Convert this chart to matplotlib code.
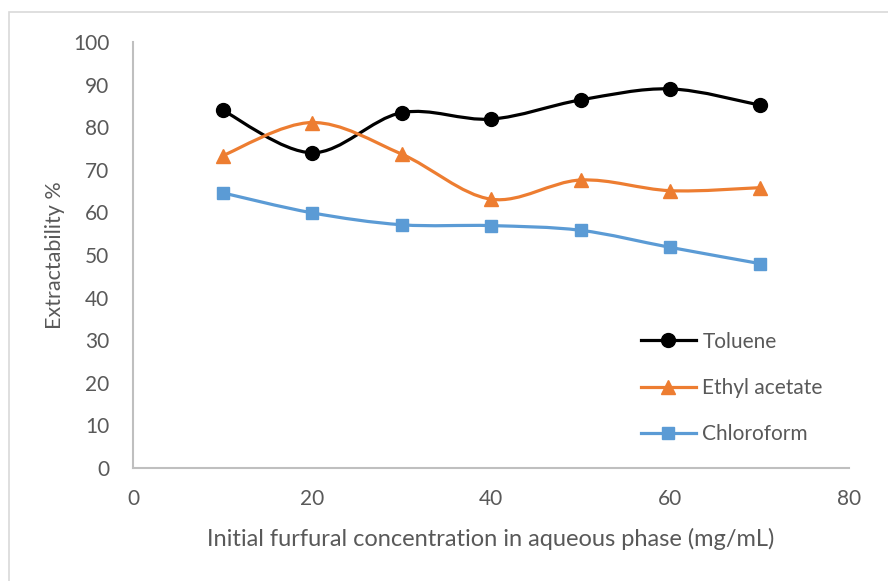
import numpy as np
import matplotlib
matplotlib.use('Agg')
import matplotlib.pyplot as plt
from matplotlib.path import Path
from matplotlib.patches import PathPatch, Rectangle
from matplotlib.lines import Line2D

plt.rcParams['font.family'] = ['Lato', 'DejaVu Sans']

# ── 数据 ──────────────────────────────────
conc = [10, 20, 30, 40, 50, 60, 70]
toluene = [84.0, 74.0, 83.4, 81.9, 86.4, 89.0, 85.2]
ethyl_acetate = [73.3, 81.1, 73.7, 63.1, 67.6, 65.1, 65.8]
chloroform = [64.6, 59.9, 57.1, 56.9, 55.8, 51.8, 48.0]

series_names = ['Toluene', 'Ethyl acetate', 'Chloroform']
GRAY_TXT = '#595959'
AXIS_GRAY = '#BFBFBF'


def smooth_path(x, y):
    # Excel 风格平滑：分段三次 Bezier
    pts = np.column_stack([x, y]).astype(float)
    n = len(pts)
    verts = [pts[0]]
    codes = [Path.MOVETO]
    for i in range(n - 1):
        p0 = pts[max(i - 1, 0)]
        p1 = pts[i]
        p2 = pts[i + 1]
        p3 = pts[min(i + 2, n - 1)]
        c1 = p1 + (p2 - p0) / 6.0
        c2 = p2 - (p3 - p1) / 6.0
        verts += [c1, c2, p2]
        codes += [Path.CURVE4] * 3
    return Path(verts, codes)


fig = plt.figure(figsize=(8.88, 5.81), dpi=100)
ax = fig.add_axes([133 / 888, 1 - 468 / 581, (849 - 133) / 888, (468 - 42) / 581])

# 外框
fig.patches.append(Rectangle((8.5 / 888, -0.1), 1.2, 1.1 - 12.5 / 581,
                             transform=fig.transFigure, fill=False,
                             edgecolor='#D9D9D9', linewidth=1.2))

styles = [
    (toluene, 'black', 'o', 10),
    (ethyl_acetate, '#ED7D31', '^', 10),
    (chloroform, '#5B9BD5', 's', 9),
]
handles = []
for (vals, color, mk, ms), name in zip(styles, series_names):
    ax.add_patch(PathPatch(smooth_path(conc, vals), facecolor='none',
                           edgecolor=color, linewidth=2.3, zorder=2))
    ax.plot(conc, vals, linestyle='none', marker=mk, markersize=ms,
            color=color, zorder=3)
    handles.append(Line2D([], [], color=color, linewidth=2.3, marker=mk,
                          markersize=ms, label=name))

ax.set_xlim(0, 80)
ax.set_ylim(0, 100)
ax.set_xticks(range(0, 81, 20))
ax.set_yticks(range(0, 101, 10))

for side in ['top', 'right']:
    ax.spines[side].set_visible(False)
for side in ['left', 'bottom']:
    ax.spines[side].set_color(AXIS_GRAY)
    ax.spines[side].set_linewidth(1.5)

ax.tick_params(axis='both', length=0, labelsize=15, labelcolor=GRAY_TXT)
ax.tick_params(axis='y', pad=17)
ax.tick_params(axis='x', pad=15)

ax.set_xlabel('Initial furfural concentration in aqueous phase (mg/mL)',
              fontsize=17, color=GRAY_TXT, labelpad=14)
ax.set_ylabel('Extractability %', fontsize=15.5, color=GRAY_TXT, labelpad=6)

ax.legend(handles=handles, loc='center left',
          bbox_to_anchor=(633 / 888, 1 - 388 / 581),
          bbox_transform=fig.transFigure, frameon=False,
          fontsize=15, labelcolor=GRAY_TXT, handlelength=2.6,
          handletextpad=0.33, labelspacing=1.27, borderaxespad=0)

fig.savefig('out.png', dpi=100)
